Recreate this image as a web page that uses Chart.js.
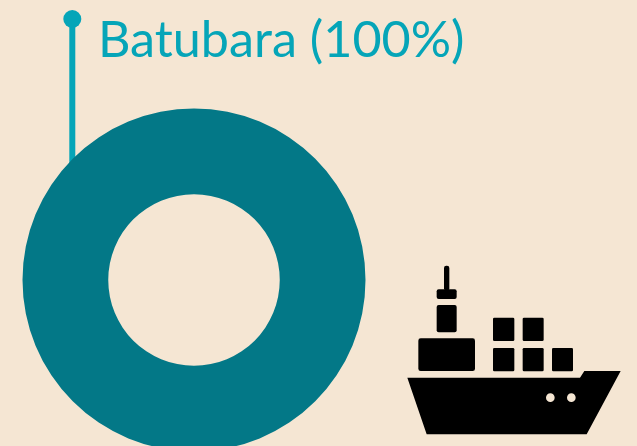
<!DOCTYPE html>
<html>
<head>
<meta charset="utf-8">
<style>
  html, body { margin: 0; padding: 0; background: #f5e6d3; }
  #wrap { position: relative; width: 637px; height: 446px; overflow: hidden; background: #f5e6d3; }
  #chart { position: absolute; left: 0; top: 0; }
  #leader, #ship { position: absolute; }
  #leader { left: 0; top: 0; }
  #ship { left: 400px; top: 255px; }
  #label { position: absolute; left: 98px; top: 10px; font: 400 50.3px Lato, sans-serif; line-height: 56px; color: #05a5b8; white-space: nowrap; }
</style>
</head>
<body>
<div id="wrap">
  <svg id="leader" width="120" height="180">
    <line x1="72.3" y1="19" x2="72.3" y2="170" stroke="#05a5b8" stroke-width="6"/>
    <circle cx="72.3" cy="19" r="9" fill="#05a5b8"/>
  </svg>
  <canvas id="chart" width="637" height="452"></canvas>
  <div id="label"></div>
  <svg id="ship" width="237" height="191" viewBox="0 0 711 573">
    <path fill="#000" fill-rule="evenodd" d="M22 368 L540 368 L553 348 L662 348 L560 538 L80 538 Z
      M438 428 a13 13 0 1 0 26 0 a13 13 0 1 0 -26 0 Z
      M501 428 a13 13 0 1 0 26 0 a13 13 0 1 0 -26 0 Z"/>
    <rect x="279" y="188" width="64" height="70" rx="4"/>
    <rect x="368" y="188" width="63" height="70" rx="4"/>
    <rect x="279" y="279" width="64" height="70" rx="4"/>
    <rect x="368" y="279" width="63" height="70" rx="4"/>
    <rect x="456" y="279" width="63" height="70" rx="4"/>
    <rect x="55" y="250" width="170" height="98" rx="7"/>
    <rect x="110" y="150" width="60" height="82" rx="6"/>
    <rect x="110" y="103" width="60" height="29" rx="6"/>
    <rect x="132" y="32" width="16" height="75" rx="7"/>
  </svg>
</div>
<script src="https://cdn.jsdelivr.net/npm/chart.js@4"></script>
<script>
// Komposisi muatan: satu kategori, jadi donatnya penuh
const categories = ["Batubara"];
const shares = [100];
const colors = ["#037887"];

document.getElementById("label").textContent = `${categories[0]} (${shares[0]}%)`;

new Chart(document.getElementById("chart"), {
  type: "doughnut",
  data: {
    labels: categories,
    datasets: [{ data: shares, backgroundColor: colors, borderWidth: 0 }],
  },
  options: {
    responsive: false,
    animation: false,
    cutout: "50%",
    layout: { padding: { left: 22.5, right: 271.5, top: 108, bottom: 0 } },
    plugins: { legend: { display: false }, tooltip: { enabled: false } },
  },
});
</script>
</body>
</html>
